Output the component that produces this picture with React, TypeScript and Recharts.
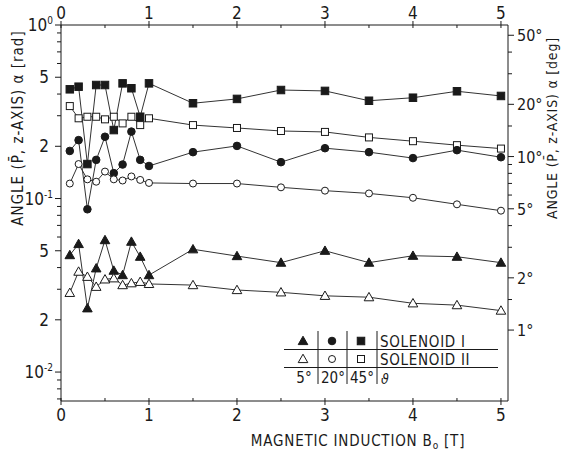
import React from "react";
import { LineChart, Line, XAxis, YAxis } from "recharts";

// magnetic induction B0 [T]
const bField = [0.1, 0.2, 0.3, 0.4, 0.5, 0.6, 0.7, 0.8, 0.9, 1.0, 1.5, 2, 2.5, 3, 3.5, 4, 4.5, 5];

// angle alpha [rad], solenoid I (filled) and II (open), theta = 5, 20, 45 deg
const sol1Theta45 = [0.426, 0.441, 0.158, 0.451, 0.451, 0.248, 0.461, 0.432, 0.296, 0.461, 0.354, 0.375, 0.422, 0.417, 0.366, 0.381, 0.415, 0.39];
const sol2Theta45 = [0.341, 0.29, 0.296, 0.296, 0.286, 0.296, 0.271, 0.296, 0.265, 0.29, 0.265, 0.255, 0.245, 0.242, 0.225, 0.214, 0.203, 0.194];
const sol1Theta20 = [0.188, 0.217, 0.0867, 0.167, 0.227, 0.14, 0.157, 0.243, 0.167, 0.154, 0.185, 0.201, 0.162, 0.195, 0.185, 0.171, 0.19, 0.173];
const sol2Theta20 = [0.122, 0.158, 0.129, 0.125, 0.143, 0.129, 0.127, 0.134, 0.128, 0.123, 0.122, 0.122, 0.116, 0.111, 0.107, 0.101, 0.0926, 0.0851];
const sol1Theta5 = [0.0472, 0.0547, 0.0233, 0.0396, 0.0576, 0.0384, 0.0362, 0.0564, 0.0462, 0.0362, 0.051, 0.0466, 0.0427, 0.05, 0.0427, 0.0468, 0.0462, 0.0427];
const sol2Theta5 = [0.0286, 0.0379, 0.0354, 0.031, 0.0342, 0.0347, 0.0317, 0.0325, 0.0331, 0.0322, 0.0317, 0.0297, 0.0288, 0.0275, 0.027, 0.0249, 0.0243, 0.0226];

// axis ticks
const xTicks = [0, 0.5, 1, 1.5, 2, 2.5, 3, 3.5, 4, 4.5, 5];
const radMajor = [1, 0.5, 0.2, 0.1, 0.05, 0.02, 0.01];
const radMinor = [0.9, 0.8, 0.7, 0.6, 0.4, 0.3, 0.09, 0.08, 0.07, 0.06, 0.04, 0.03, 0.009, 0.008, 0.007];
const degLabeled = [50, 20, 10, 5, 2, 1];
const degMinor = [40, 30, 15, 9, 8, 7, 6, 4, 3, 1.5];

const FONT = "'DejaVu Sans Condensed', 'Liberation Sans Narrow', 'DejaVu Sans', sans-serif";
const INK = "#1a1a1a";

const data = bField.map((b, i) => ({
  b,
  s1t45: sol1Theta45[i],
  s2t45: sol2Theta45[i],
  s1t20: sol1Theta20[i],
  s2t20: sol2Theta20[i],
  s1t5: sol1Theta5[i],
  s2t5: sol2Theta5[i],
}));

const toRad = (d: number) => (d * Math.PI) / 180;

function makeDot(shape: string, filled: boolean) {
  return (props: any) => {
    const { cx, cy, index } = props;
    if (cx == null || cy == null) return <g key={index} />;
    const fill = filled ? INK : "#fff";
    if (shape === "square") {
      const s = filled ? 7.5 : 7;
      return <rect key={index} x={cx - s / 2} y={cy - s / 2} width={s} height={s} fill={fill} stroke={INK} strokeWidth={1} />;
    }
    if (shape === "circle") {
      return <circle key={index} cx={cx} cy={cy} r={filled ? 3.8 : 3.5} fill={fill} stroke={INK} strokeWidth={1} />;
    }
    const h = 4.8;
    return (
      <polygon
        key={index}
        points={`${cx},${cy - h} ${cx + h},${cy + h * 0.75} ${cx - h},${cy + h * 0.75}`}
        fill={fill}
        stroke={INK}
        strokeWidth={1}
      />
    );
  };
}

function Sup({ base, exp }: { base: string; exp: string }) {
  return (
    <>
      {base}
      <tspan dy={-7} fontSize={10}>{exp}</tspan>
    </>
  );
}

const leftLabels: { [k: string]: any } = {
  "1": <Sup base="10" exp="0" />,
  "0.5": "5",
  "0.2": "2",
  "0.1": <Sup base="10" exp="-1" />,
  "0.05": "5",
  "0.02": "2",
  "0.01": <Sup base="10" exp="-2" />,
};

const LeftTick = (props: any) => {
  const { x, y, payload } = props;
  const lab = leftLabels[String(payload.value)];
  const len = lab ? 6 : 4;
  const single = typeof lab === "string";
  return (
    <g>
      <line x1={x - len} x2={x} y1={y} y2={y} stroke={INK} strokeWidth={1} />
      {lab && (
        <text x={single ? x - 12 : x - 8} y={y + 6} textAnchor="end" fontSize={17} fontFamily={FONT} fill={INK}>
          {lab}
        </text>
      )}
    </g>
  );
};

const RightTick = (props: any) => {
  const { x, y, payload } = props;
  const deg = Math.round((payload.value * 180) / Math.PI * 10) / 10;
  const lab = degLabeled.includes(deg);
  const len = lab ? 6 : 4;
  return (
    <g>
      <line x1={x} x2={x + len} y1={y} y2={y} stroke={INK} strokeWidth={1} />
      {lab && (
        <text x={x + 9} y={y + 6} textAnchor="start" fontSize={16} fontFamily={FONT} fill={INK}>
          {deg}°
        </text>
      )}
    </g>
  );
};

const TopTick = (props: any) => {
  const { x, y, payload } = props;
  const major = Number.isInteger(payload.value);
  return (
    <g>
      <line x1={x} x2={x} y1={y - (major ? 4 : 0)} y2={y + 3} stroke={INK} strokeWidth={1} />
      {major && (
        <text x={x} y={y - 6} textAnchor="middle" fontSize={17} fontFamily={FONT} fill={INK}>
          {payload.value}
        </text>
      )}
    </g>
  );
};

const BottomTick = (props: any) => {
  const { x, y, payload } = props;
  const major = Number.isInteger(payload.value);
  return (
    <g>
      <line x1={x} x2={x} y1={y - 3} y2={y + (major ? 4 : 0)} stroke={INK} strokeWidth={1} />
      {major && (
        <text x={x} y={y + 20} textAnchor="middle" fontSize={17} fontFamily={FONT} fill={INK}>
          {payload.value}
        </text>
      )}
    </g>
  );
};

function LegendTable() {
  const dot1 = [makeDot("triangle", true), makeDot("circle", true), makeDot("square", true)];
  const dot2 = [makeDot("triangle", false), makeDot("circle", false), makeDot("square", false)];
  const cols = [303, 332, 361];
  const thetas = ["5°", "20°", "45°"];
  return (
    <g fontFamily={FONT} fill={INK}>
      {cols.map((cx, i) => (
        <g key={"a" + i}>{dot1[i]({ cx, cy: 341, index: i })}</g>
      ))}
      {cols.map((cx, i) => (
        <g key={"b" + i}>{dot2[i]({ cx, cy: 359, index: i })}</g>
      ))}
      {cols.map((cx, i) => (
        <text key={"c" + i} x={cx + 1} y={383} textAnchor="middle" fontSize={15}>
          {thetas[i]}
        </text>
      ))}
      <text x={380} y={347} fontSize={15} letterSpacing={0.7}>SOLENOID I</text>
      <text x={380} y={365} fontSize={15} letterSpacing={0.7}>SOLENOID II</text>
      <text x={381} y={384} fontSize={14} fontStyle="italic">ϑ</text>
      <line x1={284} x2={498} y1={349.5} y2={349.5} stroke={INK} strokeWidth={1} />
      <line x1={284} x2={498} y1={367.5} y2={367.5} stroke={INK} strokeWidth={1} />
      {[318, 347, 377].map((x) => (
        <line key={x} x1={x} x2={x} y1={331} y2={384} stroke={INK} strokeWidth={1} />
      ))}
    </g>
  );
}

export default function App() {
  const lineProps = { type: "linear" as const, stroke: "#333", strokeWidth: 1, isAnimationActive: false, yAxisId: "rad", xAxisId: "bot" };
  return (
    <div style={{ position: "absolute", left: 0, top: 0, width: 562, height: 451, background: "#fff" }}>
      <LineChart width={562} height={451} data={data} margin={{ top: 5, right: 14, bottom: 20, left: 21 }}>
        <XAxis
          xAxisId="bot"
          dataKey="b"
          type="number"
          domain={[0, 5.08]}
          ticks={xTicks}
          tick={<BottomTick />}
          tickSize={0}
          tickMargin={0}
          tickLine={false}
          height={30}
          stroke={INK}
          allowDataOverflow
        />
        <XAxis
          xAxisId="top"
          orientation="top"
          dataKey="b"
          type="number"
          domain={[0, 5.08]}
          ticks={xTicks}
          tick={<TopTick />}
          tickSize={0}
          tickMargin={0}
          tickLine={false}
          height={20}
          stroke={INK}
          allowDataOverflow
        />
        <YAxis
          yAxisId="rad"
          scale="log"
          type="number"
          domain={[0.00681, 1]}
          ticks={[...radMajor, ...radMinor]}
          tick={<LeftTick />}
          tickSize={0}
          tickMargin={0}
          tickLine={false}
          width={40}
          stroke={INK}
          allowDataOverflow
          interval={0}
        />
        <YAxis
          yAxisId="deg"
          orientation="right"
          scale="log"
          type="number"
          domain={[0.00681, 1]}
          ticks={[...degLabeled, ...degMinor].map(toRad)}
          tick={<RightTick />}
          tickSize={0}
          tickMargin={0}
          tickLine={false}
          width={40}
          stroke={INK}
          allowDataOverflow
          interval={0}
        />
        <Line {...lineProps} dataKey="s1t45" dot={makeDot("square", true)} />
        <Line {...lineProps} dataKey="s2t45" dot={makeDot("square", false)} />
        <Line {...lineProps} dataKey="s1t20" dot={makeDot("circle", true)} />
        <Line {...lineProps} dataKey="s2t20" dot={makeDot("circle", false)} />
        <Line {...lineProps} dataKey="s1t5" dot={makeDot("triangle", true)} />
        <Line {...lineProps} dataKey="s2t5" dot={makeDot("triangle", false)} />
      </LineChart>
      <svg width={562} height={451} style={{ position: "absolute", left: 0, top: 0, pointerEvents: "none" }}>
        <text
          transform="translate(23,128) rotate(-90)"
          textAnchor="middle"
          fontSize={15}
          letterSpacing={1}
          fontFamily={FONT}
          fill={INK}
        >
          ANGLE (P̄, z-AXIS) α [rad]
        </text>
        <text
          transform="translate(557,128) rotate(-90)"
          textAnchor="middle"
          fontSize={14}
          letterSpacing={0.8}
          fontFamily={FONT}
          fill={INK}
        >
          ANGLE (P̄, z-AXIS)  α [deg]
        </text>
        <text x={358} y={446} textAnchor="middle" fontSize={15} letterSpacing={0.8} fontFamily={FONT} fill={INK}>
          MAGNETIC INDUCTION  B<tspan dy={3} fontSize={10}>o</tspan>
          <tspan dy={-3}> [T]</tspan>
        </text>
        <LegendTable />
      </svg>
    </div>
  );
}
